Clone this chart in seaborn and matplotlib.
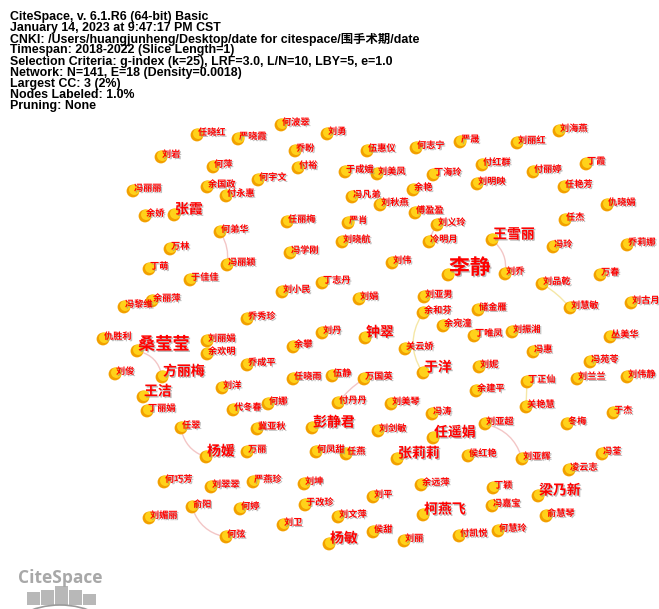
import matplotlib
matplotlib.use('Agg')
import matplotlib.pyplot as plt
import matplotlib.patheffects as pe
from matplotlib.patches import FancyArrowPatch, Rectangle, Arc
import seaborn as sns
import pandas as pd

# co-author network (layout x/y in picture pixels, tier = label weight)
node_names = ['任晓红', '严晓霞', '刘岩', '何萍', '何宇文', '冯丽丽', '余国政', '付永惠', '余娇', '张霞',
              '何弟华', '万林', '冯丽颖', '丁萌', '何波翠', '刘勇', '乔盼', '伍惠仪', '何志宁', '严晟',
              '付裕', '于成娥', '刘美凤', '丁海玲', '冯凡弟', '余艳', '刘秋燕', '傅盈盈', '任丽梅', '严肖',
              '刘义玲', '刘晓航', '冷明月', '冯学刚', '刘伟', '李静', '刘海燕', '刘丽红', '付红群', '付丽婷',
              '丁霞', '刘明映', '任艳芳', '仇晓娟', '任杰', '王雪丽', '冯玲', '乔莉娜', '于佳佳', '余丽萍',
              '冯黎维', '乔秀珍', '仇胜利', '桑莹莹', '刘丽娟', '余欢明', '乔成平', '刘俊', '方丽梅', '刘洋',
              '王洁', '丁丽娟', '代冬春', '何娜', '刘小民', '丁志丹', '刘娟', '刘亚男', '余和芬', '余宛潼',
              '刘丹', '钟翠', '关云娇', '余攀', '于洋', '任晓雨', '伍静', '万国英', '付丹丹', '刘美琴',
              '冯涛', '刘乔', '万春', '刘品乾', '刘慧敏', '刘古月', '储金雁', '丁唯凤', '刘振湘', '丛美华',
              '冯惠', '刘妮', '冯苑苓', '丁正仙', '刘兰兰', '刘伟静', '余建平', '关艳慧', '于杰', '冬梅',
              '刘亚超', '任翠', '冀亚秋', '杨媛', '万丽', '何巧芳', '刘翠翠', '严燕珍', '俞阳', '何婷',
              '刘媚丽', '何弦', '刘卫', '彭静君', '刘剑敏', '任遥娟', '何凤甜', '任燕', '张莉莉', '侯红艳',
              '刘坤', '余远萍', '刘平', '于改珍', '刘文萍', '柯燕飞', '侯甜', '刘丽', '付凯悦', '杨敏',
              '刘亚辉', '冯荃', '凌云志', '丁颖', '梁乃新', '冯嘉宝', '俞慧琴', '何慧玲']
node_x = [197, 238, 161, 213, 258, 133, 207, 226, 145, 174,
          220, 170, 227, 149, 281, 327, 295, 367, 416, 460,
          298, 345, 377, 433, 352, 413, 380, 415, 287, 348,
          437, 342, 429, 290, 392, 448, 559, 517, 482, 533,
          586, 477, 564, 607, 565, 492, 553, 627, 190, 152,
          124, 247, 103, 137, 207, 207, 247, 115, 162, 222,
          143, 147, 233, 268, 282, 322, 359, 424, 423, 443,
          322, 365, 405, 293, 423, 293, 332, 364, 338, 391,
          432, 505, 600, 542, 570, 631, 478, 474, 512, 610,
          533, 479, 590, 527, 577, 627, 476, 526, 613, 567,
          485, 181, 257, 206, 247, 164, 211, 253, 192, 240,
          149, 226, 283, 312, 378, 433, 316, 346, 397, 468,
          304, 421, 373, 305, 338, 423, 373, 404, 459, 329,
          522, 602, 569, 493, 538, 492, 546, 498]
node_y = [135, 139, 157, 167, 180, 191, 187, 196, 216, 215,
          232, 249, 265, 269, 125, 134, 151, 151, 148, 142,
          168, 172, 174, 175, 197, 190, 205, 213, 222, 223,
          225, 242, 242, 253, 263, 275, 131, 143, 165, 172,
          164, 184, 187, 205, 220, 240, 247, 245, 280, 301,
          307, 319, 339, 351, 341, 354, 365, 374, 377, 388,
          397, 411, 410, 404, 292, 283, 299, 297, 313, 326,
          333, 338, 349, 347, 373, 379, 376, 379, 403, 404,
          414, 274, 275, 284, 308, 303, 310, 336, 332, 337,
          352, 367, 362, 382, 379, 377, 391, 407, 413, 424,
          424, 428, 429, 457, 452, 482, 487, 482, 507, 509,
          518, 537, 525, 428, 431, 438, 452, 454, 459, 456,
          484, 485, 497, 505, 517, 515, 532, 541, 536, 544,
          459, 454, 470, 488, 496, 506, 516, 531]
big_tier2 = ['张霞', '王雪丽', '方丽梅', '王洁', '钟翠', '于洋', '杨媛', '彭静君',
             '任遥娟', '张莉莉', '柯燕飞', '杨敏', '梁乃新']
node_tier = [4 if n == '李静' else 3 if n == '桑莹莹' else 2 if n in big_tier2 else 1
             for n in node_names]

edge_src = ['何弟华', '桑莹莹', '王雪丽', '刘品乾', '余和芬', '万国英', '丁正仙', '任翠', '俞阳', '刘亚超', '刘义玲']
edge_dst = ['冯丽颖', '方丽梅', '刘乔', '刘慧敏', '于洋', '付丹丹', '关艳慧', '杨媛', '何弦', '刘亚辉', '冷明月']
edge_bend = [-0.2, -0.35, -0.3, -0.1, 0.33, 0.1, 0.0, 0.3, 0.3, -0.3, 0.1]
edge_col = ['#f3c6c6', '#f3c6c6', '#f3c6c6', '#f5e7a6', '#f5e7a6', '#f3c6c6',
            '#f5e7a6', '#f3c6c6', '#f3c6c6', '#f3c6c6', '#f3c6c6']

header = ['CiteSpace, v. 6.1.R6 (64-bit) Basic',
          'January 14, 2023 at 9:47:17 PM CST',
          'CNKI: /Users/huangjunheng/Desktop/date for citespace/围手术期/date',
          'Timespan: 2018-2022 (Slice Length=1)',
          'Selection Criteria: g-index (k=25), LRF=3.0, L/N=10, LBY=5, e=1.0',
          'Network: N=141, E=18 (Density=0.0018)',
          'Largest CC: 3 (2%)',
          'Nodes Labeled: 1.0%',
          'Pruning: None']

df = pd.DataFrame({'name': node_names, 'x': node_x, 'y': node_y, 'tier': node_tier})
pos = dict(zip(df['name'], zip(df['x'], df['y'])))

sns.set_style('white')
plt.rcParams['font.family'] = ['Liberation Sans', 'Noto Sans CJK SC', 'DejaVu Sans']

fig = plt.figure(figsize=(6.59, 6.09), dpi=100)
ax = fig.add_axes([0, 0, 1, 1])
ax.set_xlim(0, 659)
ax.set_ylim(609, 0)

# edges (curved like citespace)
for s, d, b, c in zip(edge_src, edge_dst, edge_bend, edge_col):
    arc = FancyArrowPatch(pos[s], pos[d], arrowstyle='-', connectionstyle=f'arc3,rad={b}',
                          color=c, lw=1.0, zorder=1)
    ax.add_patch(arc)

# nodes: orange base + yellow highlight a bit up-right
sns.scatterplot(data=df, x='x', y='y', s=85, color='#f2a000', edgecolor='none', linewidth=0, ax=ax, zorder=2)
hl = df.assign(x=df['x'] + 1.3, y=df['y'] - 1.3)
sns.scatterplot(data=hl, x='x', y='y', s=58, color='#ffd21a', edgecolor='none', linewidth=0, ax=ax, zorder=3)

fsize = {1: 6.6, 2: 10, 3: 12.4, 4: 15}
dy = {1: -2.5, 2: -5.5, 3: -6.5, 4: -7.5}
shadow = [pe.SimplePatchShadow(offset=(1, -1), shadow_rgbFace='#888888', alpha=0.55), pe.Normal()]
for _, r in df.iterrows():
    ax.text(r['x'] + 1, r['y'] + dy[r['tier']], r['name'], color='#ff0000', fontsize=fsize[r['tier']],
            fontweight='bold', family=['Noto Sans CJK SC'], ha='left', va='center',
            path_effects=shadow, zorder=4)

# header block
for i, line in enumerate(header):
    ax.text(10, 16.7 + i * 11.2, line, fontsize=8.9, fontweight='bold', color='black',
            ha='left', va='center', zorder=5)

# citespace logo bottom-left
ax.text(60, 578, 'CiteSpace', fontsize=12.5, fontweight='bold', color='#a8a8a8',
        family=['Open Sans', 'DejaVu Sans'], ha='center', va='center')
bar_h = [13, 15, 19, 15, 11]
for k, h in enumerate(bar_h):
    ax.add_patch(Rectangle((27 + k * 14, 605 - h), 13, h, color='#b8b8b8', lw=0))
ax.add_patch(Arc((60, 640), 110, 70, theta1=215, theta2=325, color='#9a9a9a', lw=1.2))

ax.axis('off')
fig.savefig('out.png', dpi=100, facecolor='white')
